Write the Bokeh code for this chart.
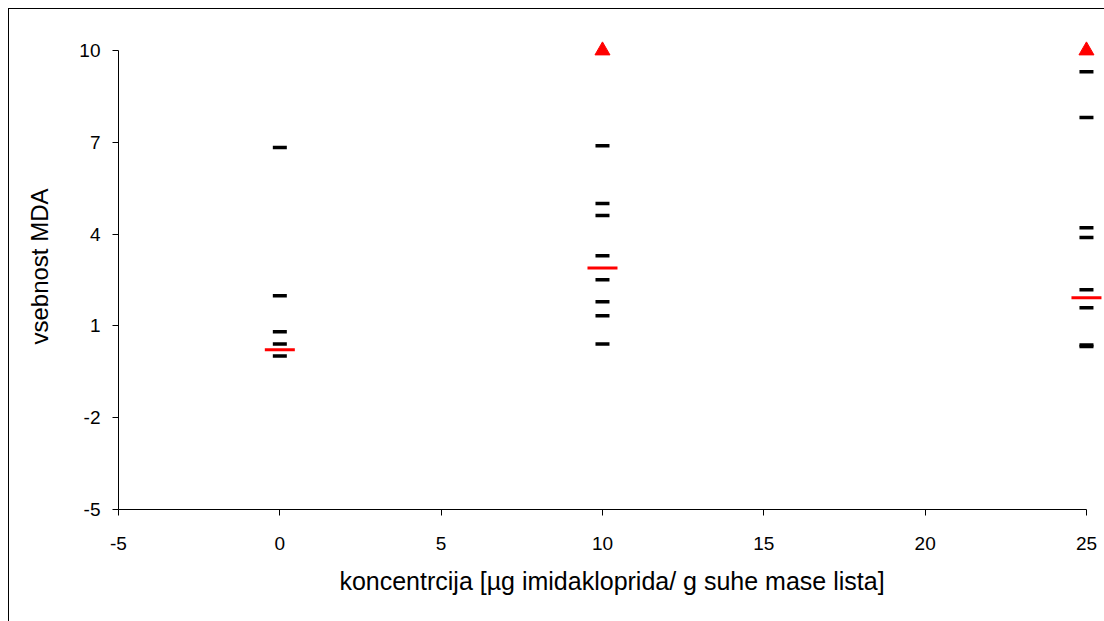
from bokeh.plotting import figure
from bokeh.models import Range1d, FixedTicker
from bokeh.embed import file_html
from bokeh.resources import INLINE

# Data
conc_0 = [0, 0, 0, 0, 0]
mda_0 = [6.83, 1.99, 0.81, 0.41, 0.02]
conc_10 = [10, 10, 10, 10, 10, 10, 10, 10]
mda_10 = [6.89, 5.0, 4.61, 3.29, 2.51, 1.79, 1.33, 0.41]
conc_25 = [25, 25, 25, 25, 25, 25, 25, 25]
mda_25 = [9.31, 7.81, 4.21, 3.89, 2.18, 1.59, 0.38, 0.33]

mean_conc = [0, 10, 25]
mean_mda = [0.22, 2.89, 1.92]

over_conc = [10, 25]
over_mda = [10, 10]

x_ticks = [-5, 0, 5, 10, 15, 20, 25]
y_ticks = [-5, -2, 1, 4, 7, 10]

FONT = "Liberation Sans"

p = figure(width=1096, height=613, output_backend="svg", toolbar_location=None,
           x_range=Range1d(-5, 25.59), y_range=Range1d(-5, 10.884),
           min_border_left=109, min_border_right=0, min_border_top=14, min_border_bottom=113)
p.styles = {"border-left": "1px solid black", "border-top": "1px solid black",
            "box-sizing": "border-box", "margin-left": "8px", "margin-top": "8px"}
p.outline_line_color = None
p.grid.visible = False
p.background_fill_color = "white"
p.border_fill_color = "white"

xs = conc_0 + conc_10 + conc_25
ys = mda_0 + mda_10 + mda_25
p.scatter(xs, ys, marker="dash", size=14, line_color="black", line_width=3.5)
p.scatter(mean_conc, mean_mda, marker="dash", size=30, line_color="red", line_width=3)
p.scatter(over_conc, over_mda, marker="triangle", size=15, fill_color="red", line_color="red")

for ax in (p.xaxis[0], p.yaxis[0]):
    ax.axis_line_color = "black"
    ax.major_tick_line_color = "black"
    ax.major_tick_out = 6
    ax.major_tick_in = 0
    ax.minor_tick_line_color = None
    ax.major_label_text_font = FONT
    ax.major_label_text_font_size = "19px"
    ax.major_label_text_color = "black"
    ax.axis_label_text_font = FONT
    ax.axis_label_text_font_style = "normal"
    ax.axis_label_text_color = "black"

p.xaxis.axis_label_text_font_size = "25px"
p.yaxis.axis_label_text_font_size = "24px"
p.xaxis.ticker = FixedTicker(ticks=x_ticks)
p.yaxis.ticker = FixedTicker(ticks=y_ticks)
p.xaxis.major_label_overrides = {t: str(t) for t in x_ticks}
p.yaxis.major_label_overrides = {t: str(t) for t in y_ticks}
p.xaxis.bounds = (-5, 25)
p.yaxis.bounds = (-5, 10)
p.xaxis.major_label_standoff = 21
p.yaxis.major_label_standoff = 12
p.xaxis.axis_label = "koncentrcija [µg imidakloprida/ g suhe mase lista]"
p.yaxis.axis_label = "vsebnost MDA"
p.xaxis.axis_label_standoff = 14
p.yaxis.axis_label_standoff = 23

open("out.html", "w").write(file_html(p, INLINE))
